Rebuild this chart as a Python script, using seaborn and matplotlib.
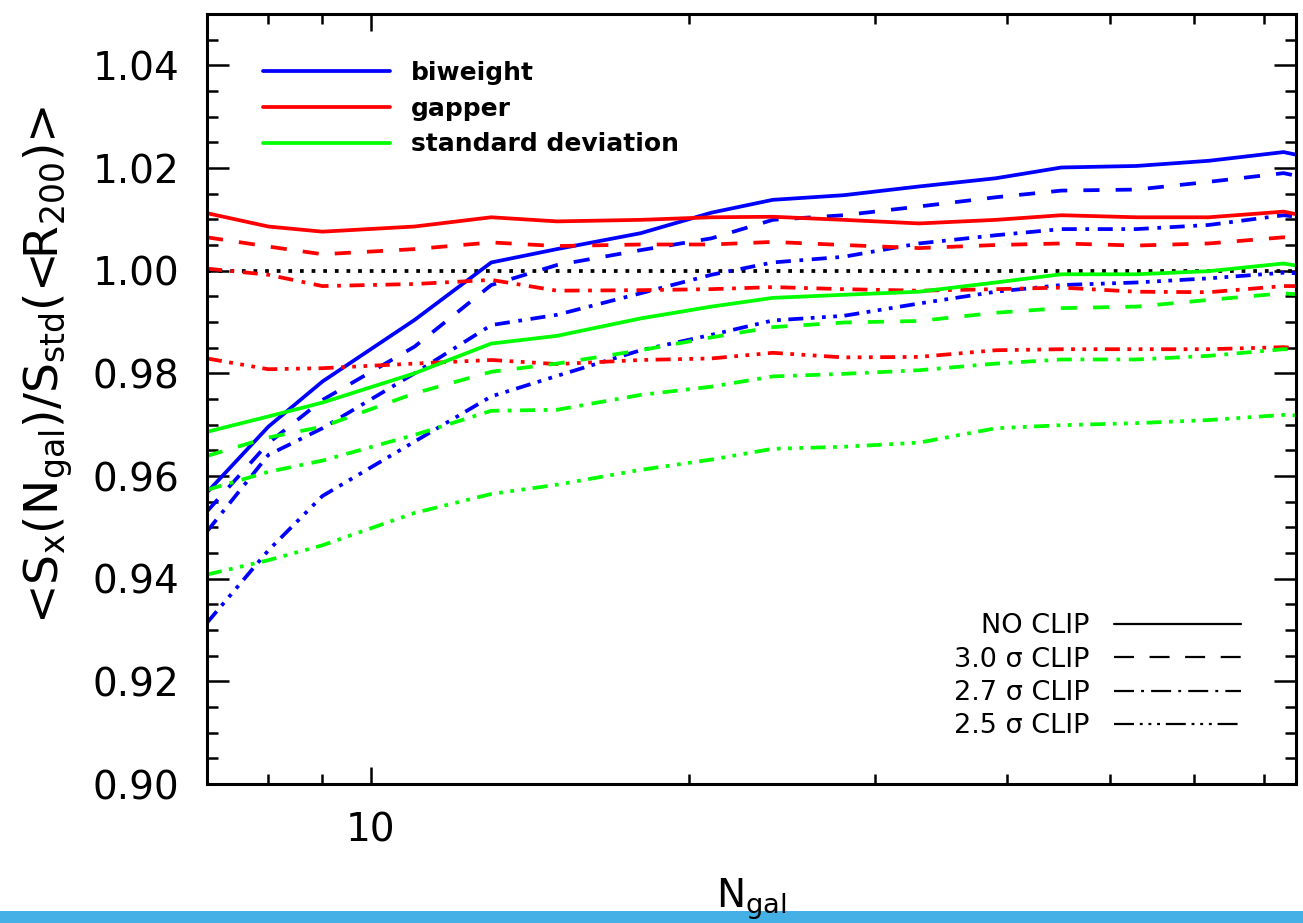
import numpy as np
import pandas as pd
import matplotlib
matplotlib.use("Agg")
import matplotlib.pyplot as plt
import matplotlib.ticker as mticker
from matplotlib.lines import Line2D
from matplotlib.patches import Rectangle
import seaborn as sns

# ---------------- data ----------------
N_GAL = [7, 8, 9, 11, 13, 15, 18, 21, 24, 28, 33, 39, 45, 53, 62, 73, 75]

BW_NOCLIP = [0.9568, 0.9696, 0.9784, 0.9904, 1.0016, 1.0042, 1.0073, 1.0113, 1.0138, 1.0147, 1.0164, 1.0180, 1.0201, 1.0204, 1.0214, 1.0231, 1.0226]
BW_CLIP30 = [0.9531, 0.9664, 0.9748, 0.9852, 0.9972, 1.0011, 1.0040, 1.0063, 1.0099, 1.0108, 1.0125, 1.0143, 1.0156, 1.0158, 1.0173, 1.0190, 1.0185]
BW_CLIP27 = [0.9492, 0.9641, 0.9693, 0.9800, 0.9894, 0.9914, 0.9956, 0.9992, 1.0016, 1.0027, 1.0053, 1.0069, 1.0081, 1.0081, 1.0089, 1.0108, 1.0105]
BW_CLIP25 = [0.9314, 0.9455, 0.9561, 0.9667, 0.9755, 0.9795, 0.9845, 0.9875, 0.9903, 0.9912, 0.9936, 0.9959, 0.9972, 0.9977, 0.9985, 0.9996, 0.9995]

GP_NOCLIP = [1.0112, 1.0086, 1.0076, 1.0086, 1.0104, 1.0096, 1.0099, 1.0104, 1.0105, 1.0099, 1.0092, 1.0099, 1.0108, 1.0104, 1.0104, 1.0115, 1.0110]
GP_CLIP30 = [1.0065, 1.0047, 1.0032, 1.0042, 1.0055, 1.0048, 1.0051, 1.0051, 1.0056, 1.0050, 1.0044, 1.0050, 1.0053, 1.0049, 1.0053, 1.0065, 1.0063]
GP_CLIP27 = [1.0004, 0.9992, 0.9970, 0.9974, 0.9982, 0.9961, 0.9962, 0.9964, 0.9968, 0.9964, 0.9961, 0.9964, 0.9967, 0.9959, 0.9958, 0.9970, 0.9970]
GP_CLIP25 = [0.9829, 0.9808, 0.9810, 0.9819, 0.9826, 0.9818, 0.9826, 0.9829, 0.9840, 0.9831, 0.9832, 0.9845, 0.9847, 0.9847, 0.9847, 0.9851, 0.9849]

SD_NOCLIP = [0.9686, 0.9716, 0.9743, 0.9800, 0.9858, 0.9873, 0.9907, 0.9930, 0.9947, 0.9953, 0.9959, 0.9977, 0.9993, 0.9993, 0.9999, 1.0014, 1.0010]
SD_CLIP30 = [0.9639, 0.9675, 0.9696, 0.9761, 0.9803, 0.9819, 0.9845, 0.9870, 0.9890, 0.9899, 0.9902, 0.9918, 0.9927, 0.9930, 0.9943, 0.9956, 0.9954]
SD_CLIP27 = [0.9573, 0.9608, 0.9630, 0.9680, 0.9727, 0.9729, 0.9758, 0.9774, 0.9794, 0.9799, 0.9806, 0.9819, 0.9827, 0.9827, 0.9834, 0.9847, 0.9847]
SD_CLIP25 = [0.9408, 0.9436, 0.9465, 0.9528, 0.9565, 0.9583, 0.9612, 0.9632, 0.9653, 0.9657, 0.9665, 0.9693, 0.9699, 0.9703, 0.9709, 0.9719, 0.9718]

ESTIMATORS = ["biweight", "gapper", "standard deviation"]
CLIPS = ["NO CLIP", "3.0 \u03c3 CLIP", "2.7 \u03c3 CLIP", "2.5 \u03c3 CLIP"]
Y_TICKS = [0.90, 0.92, 0.94, 0.96, 0.98, 1.00, 1.02, 1.04]
X_TICK_LABELS = ["10"]

SERIES = {
    ("biweight", CLIPS[0]): BW_NOCLIP, ("biweight", CLIPS[1]): BW_CLIP30,
    ("biweight", CLIPS[2]): BW_CLIP27, ("biweight", CLIPS[3]): BW_CLIP25,
    ("gapper", CLIPS[0]): GP_NOCLIP, ("gapper", CLIPS[1]): GP_CLIP30,
    ("gapper", CLIPS[2]): GP_CLIP27, ("gapper", CLIPS[3]): GP_CLIP25,
    ("standard deviation", CLIPS[0]): SD_NOCLIP, ("standard deviation", CLIPS[1]): SD_CLIP30,
    ("standard deviation", CLIPS[2]): SD_CLIP27, ("standard deviation", CLIPS[3]): SD_CLIP25,
}

records = []
for (est, clip), vals in SERIES.items():
    for n, v in zip(N_GAL, vals):
        records.append({"N": n, "ratio": v, "estimator": est, "clip": clip})
df = pd.DataFrame(records)

# ---------------- styling ----------------
sns.set_style("ticks")
plt.rcParams["font.family"] = ["DejaVu Sans"]
plt.rcParams["mathtext.fontset"] = "dejavusans"
plt.rcParams["lines.scale_dashes"] = True
for key in ["text.color", "axes.labelcolor", "xtick.color", "ytick.color", "axes.edgecolor"]:
    plt.rcParams[key] = "black"

PALETTE = {"biweight": "#0000ff", "gapper": "#ff0000", "standard deviation": "#00ff00"}
DASHES = {CLIPS[0]: "", CLIPS[1]: (4.3, 4.3), CLIPS[2]: (4, 2.3, 1, 2.3),
          CLIPS[3]: (4, 2.0, 1, 2.0, 1, 2.0, 1, 2.0)}
LEG_DASHES = {CLIPS[0]: "-", CLIPS[1]: (0, (9, 7)), CLIPS[2]: (0, (9, 3.2, 1.3, 3.2)),
              CLIPS[3]: (0, (9, 2.6, 1.3, 2.6, 1.3, 2.6, 1.3, 2.6))}
LW = 2.7

fig = plt.figure(figsize=(13.03, 9.23), dpi=100)
fig.patch.set_facecolor("white")
ax = fig.add_axes([207 / 1303, 1 - 784 / 923, (1296 - 207) / 1303, 770 / 923])

sns.lineplot(data=df, x="N", y="ratio", hue="estimator", style="clip",
             hue_order=ESTIMATORS, style_order=CLIPS, palette=PALETTE,
             dashes=DASHES, estimator=None, sort=False, legend=False,
             linewidth=LW, ax=ax)

ax.axhline(1.0, color="black", lw=LW, ls=(0, (1, 2.1)), dash_capstyle="butt", zorder=1)

ax.set_xscale("log")
ax.set_xlim(7, 75)
ax.set_ylim(0.90, 1.05)
ax.xaxis.set_major_locator(mticker.FixedLocator([10]))
ax.xaxis.set_major_formatter(mticker.FixedFormatter(X_TICK_LABELS))
ax.xaxis.set_minor_locator(mticker.LogLocator(base=10, subs=np.arange(2, 10)))
ax.xaxis.set_minor_formatter(mticker.NullFormatter())
ax.yaxis.set_major_locator(mticker.FixedLocator(Y_TICKS))
ax.yaxis.set_major_formatter(mticker.FormatStrFormatter("%.2f"))
ax.yaxis.set_minor_locator(mticker.MultipleLocator(0.005))

for s in ax.spines.values():
    s.set_linewidth(2.2)
    s.set_color("black")
    s.set_visible(True)

ax.tick_params(axis="both", which="both", direction="in", top=True, right=True,
               width=1.8, color="black")
ax.tick_params(axis="x", which="major", length=12, pad=20, labelsize=28)
ax.tick_params(axis="x", which="minor", length=7)
ax.tick_params(axis="y", which="major", length=16, pad=20, labelsize=28)
ax.tick_params(axis="y", which="minor", length=8)

ax.set_xlabel(r"N$_{\rm gal}$", fontsize=28, labelpad=19)
ax.set_ylabel(r"<S$_{\rm x}$(N$_{\rm gal}$)/S$_{\rm std}$(<R$_{\rm 200}$)>", fontsize=34)
ax.yaxis.set_label_coords(-0.121, 0.545)
ax.grid(False)

# legend: estimators (colour)
h1 = [Line2D([], [], color=PALETTE[e], lw=LW) for e in ESTIMATORS]
leg1 = ax.legend(h1, ESTIMATORS, loc="upper left", bbox_to_anchor=(0.0514, 0.939),
                 frameon=False, prop={"size": 18, "weight": "bold"},
                 handlelength=5.1, handletextpad=0.83,
                 labelspacing=0.47, borderpad=0, borderaxespad=0)
ax.add_artist(leg1)

# legend: clipping (line style)
h2 = [Line2D([], [], color="black", lw=1.6, ls=LEG_DASHES[c]) for c in CLIPS]
ax.legend(h2, CLIPS, loc="lower right", bbox_to_anchor=(0.9495, 0.058),
          frameon=False, fontsize=19.5, handlelength=4.7, handletextpad=0.9,
          labelspacing=0.27, borderpad=0, borderaxespad=0, markerfirst=False)

# light blue strip at the bottom edge of the screenshot (behind the text)
fig.patches.append(Rectangle((0, 0), 1, 12 / 923, transform=fig.transFigure,
                             facecolor="#45b0e5", edgecolor="none", zorder=-1))

fig.savefig("out.png", dpi=100, facecolor="white")
